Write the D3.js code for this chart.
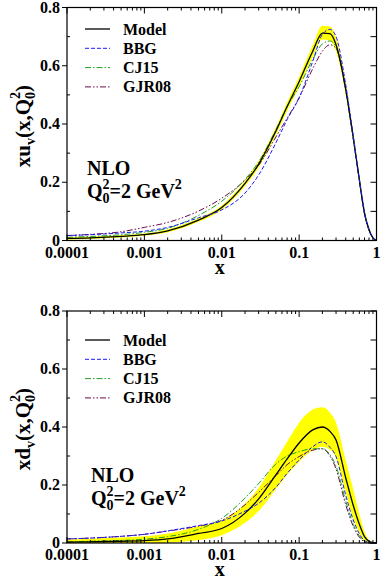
<!DOCTYPE html>
<html>
<head>
    <script src="https://cdn.jsdelivr.net/npm/d3@7"></script>
    <style>
        body { margin: 0; background: #fff; }
        svg { display: block; }
        text { font-family: "Liberation Serif", "DejaVu Serif", serif; font-weight: bold; fill: #000; }
    </style>
</head>
<body>
<svg width="382" height="581"></svg>
<script>
    // x grid shared by every curve
    var xs = [1e-4, 2e-4, 5e-4, 1e-3, 2e-3, 5e-3, 0.01, 0.02, 0.03, 0.05, 0.07, 0.1, 0.15, 0.2, 0.25, 0.3, 0.4, 0.5, 0.6, 0.7, 0.8, 0.9, 1];

    // upper panel: x u_v
    var uModel = [.007, .009, .014, .02, .033, .07, .113, .196, .262, .375, .46, .545, .65, .712, .71, .672, .52, .355, .21, .095, .038, .009, 0];
    var uUpper = [.011, .013, .018, .024, .038, .076, .12, .205, .273, .388, .475, .562, .67, .737, .735, .695, .54, .37, .222, .102, .042, .011, 0];
    var uLower = [.003, .005, .01, .016, .028, .064, .106, .187, .251, .362, .445, .528, .63, .69, .687, .65, .5, .34, .198, .088, .034, .007, 0];
    var uBBG   = [.017, .02, .026, .032, .045, .078, .105, .163, .225, .335, .415, .49, .615, .708, .725, .70, .535, .36, .21, .095, .036, .008, 0];
    var uCJ15  = [.011, .014, .02, .028, .042, .086, .135, .21, .27, .38, .46, .528, .622, .675, .685, .665, .52, .35, .205, .09, .035, .008, 0];
    var uGJR08 = [.017, .021, .03, .045, .062, .101, .145, .207, .258, .355, .42, .49, .59, .65, .672, .66, .515, .35, .205, .09, .035, .008, 0];

    // lower panel: x d_v
    var dModel = [.003, .004, .006, .008, .014, .033, .05, .103, .152, .235, .29, .345, .39, .40, .385, .355, .225, .13, .065, .022, .006, .001, 0];
    var dUpper = [.012, .015, .019, .023, .033, .058, .078, .135, .19, .285, .35, .415, .46, .468, .45, .415, .285, .185, .1, .04, .01, .002, 0];
    var dLower = [0, 0, 0, 0, .001, .01, .027, .07, .11, .185, .235, .28, .32, .332, .322, .295, .175, .085, .035, .006, .001, 0, 0];
    var dBBG   = [.014, .017, .023, .03, .042, .06, .076, .11, .137, .192, .24, .286, .332, .349, .33, .298, .165, .08, .032, .008, .002, 0, 0];
    var dCJ15  = [.004, .006, .009, .013, .022, .047, .085, .155, .205, .272, .30, .315, .325, .325, .305, .265, .145, .065, .025, .006, .001, 0, 0];
    var dGJR08 = [.014, .017, .023, .03, .041, .058, .078, .132, .175, .232, .27, .298, .32, .325, .30, .255, .132, .058, .02, .004, 0, 0, 0];

    var xTickVals = [1e-4, 1e-3, 1e-2, 0.1, 1];
    var xTickLabels = ["0.0001", "0.001", "0.01", "0.1", "1"];
    var yTickVals = [0, 0.2, 0.4, 0.6, 0.8];
    var yTickLabels = ["0", "0.2", "0.4", "0.6", "0.8"];
    var legendNames = ["Model", "BBG", "CJ15", "GJR08"];

    var styles = {
        Model: { color: "#000000", dash: null, width: 1.3 },
        BBG:   { color: "#1a1aff", dash: "4,2", width: 1 },
        CJ15:  { color: "#1f9f1f", dash: "6,2,1.5,2", width: 1 },
        GJR08: { color: "#6a0a4a", dash: "6,2,1.5,2,1.5,2", width: 1 }
    };

    const svg = d3.select("svg");

    const x = d3.scaleLog().domain([1e-4, 1]).range([67, 376.5]);

    var panels = [
        { top: 7.5, bottom: 240.5, letter: "u", model: uModel, upper: uUpper, lower: uLower,
          series: { BBG: uBBG, CJ15: uCJ15, GJR08: uGJR08 }, legendY: 29, textX: 87, textY: 175 },
        { top: 311, bottom: 543, letter: "d", model: dModel, upper: dUpper, lower: dLower,
          series: { BBG: dBBG, CJ15: dCJ15, GJR08: dGJR08 }, legendY: 340, textX: 91, textY: 482 }
    ];

    var minorX = [];
    for (var e = -4; e < 0; e++) {
        for (var m = 2; m <= 9; m++) minorX.push(m * Math.pow(10, e));
    }

    panels.forEach(function(p) {
        const y = d3.scaleLinear().domain([0, 0.8]).range([p.bottom, p.top]);
        const g = svg.append("g");

        // error band
        var area = d3.area()
            .x(function(d, i) { return x(xs[i]); })
            .y0(function(d, i) { return y(p.lower[i]); })
            .y1(function(d, i) { return y(p.upper[i]); })
            .curve(d3.curveMonotoneX);
        g.append("path")
            .attr("d", area(xs))
            .attr("fill", "#ffff00");

        var line = d3.line()
            .x(function(d, i) { return x(xs[i]); })
            .y(function(d) { return y(d); })
            .curve(d3.curveMonotoneX);

        var order = [["GJR08", p.series.GJR08], ["CJ15", p.series.CJ15], ["Model", p.model], ["BBG", p.series.BBG]];
        order.forEach(function(o) {
            var s = styles[o[0]];
            g.append("path")
                .attr("d", line(o[1]))
                .attr("fill", "none")
                .attr("stroke", s.color)
                .attr("stroke-width", s.width)
                .attr("stroke-dasharray", s.dash);
        });

        // frame
        g.append("rect")
            .attr("x", x(1e-4)).attr("y", p.top)
            .attr("width", x(1) - x(1e-4)).attr("height", p.bottom - p.top)
            .attr("fill", "none").attr("stroke", "#000").attr("stroke-width", 1.2);

        // x ticks, bottom and top, pointing inward
        var xt = g.append("g").attr("stroke", "#000").attr("stroke-width", 1);
        xTickVals.forEach(function(v) {
            xt.append("line").attr("x1", x(v)).attr("x2", x(v)).attr("y1", p.bottom).attr("y2", p.bottom - 6);
            xt.append("line").attr("x1", x(v)).attr("x2", x(v)).attr("y1", p.top).attr("y2", p.top + 6);
        });
        minorX.forEach(function(v) {
            xt.append("line").attr("x1", x(v)).attr("x2", x(v)).attr("y1", p.bottom).attr("y2", p.bottom - 3);
            xt.append("line").attr("x1", x(v)).attr("x2", x(v)).attr("y1", p.top).attr("y2", p.top + 3);
        });

        // y ticks
        var yMinor = [0.1, 0.3, 0.5, 0.7];
        yTickVals.forEach(function(v) {
            xt.append("line").attr("x1", x(1e-4) - 5).attr("x2", x(1e-4)).attr("y1", y(v)).attr("y2", y(v));
            xt.append("line").attr("x1", x(1)).attr("x2", x(1) - 6).attr("y1", y(v)).attr("y2", y(v));
        });
        yMinor.forEach(function(v) {
            xt.append("line").attr("x1", x(1e-4)).attr("x2", x(1e-4) + 3).attr("y1", y(v)).attr("y2", y(v));
            xt.append("line").attr("x1", x(1)).attr("x2", x(1) - 6).attr("y1", y(v)).attr("y2", y(v));
        });

        // tick labels
        g.selectAll(".xl").data(xTickVals).enter().append("text")
            .attr("x", function(d) { return x(d); })
            .attr("y", p.bottom + 17)
            .attr("text-anchor", "middle")
            .attr("font-size", 16)
            .text(function(d, i) { return xTickLabels[i]; });
        g.selectAll(".yl").data(yTickVals).enter().append("text")
            .attr("x", 60)
            .attr("y", function(d) { return y(d) + 5; })
            .attr("text-anchor", "end")
            .attr("font-size", 16)
            .text(function(d, i) { return yTickLabels[i]; });

        // axis titles
        g.append("text")
            .attr("x", (x(1e-4) + x(1)) / 2 - 2)
            .attr("y", p.bottom + 33)
            .attr("text-anchor", "middle")
            .attr("font-size", 20)
            .text("x");

        var yl = g.append("text")
            .attr("transform", "translate(30," + ((p.top + p.bottom) / 2 + 2) + ") rotate(-90)")
            .attr("text-anchor", "middle")
            .attr("font-size", 21);
        yl.append("tspan").text("x" + p.letter);
        yl.append("tspan").attr("font-size", 14).attr("dy", 5).text("v");
        yl.append("tspan").attr("dy", -5).text("(x,Q");
        yl.append("tspan").attr("font-size", 14).attr("dy", 5).text("0");
        yl.append("tspan").attr("font-size", 14).attr("dx", -7).attr("dy", -15).text("2");
        yl.append("tspan").attr("dy", 10).text(")");

        // NLO note
        g.append("text").attr("x", p.textX).attr("y", p.textY).attr("font-size", 20).text("NLO");
        var q = g.append("text").attr("x", p.textX).attr("y", p.textY + 23).attr("font-size", 20);
        q.append("tspan").text("Q");
        q.append("tspan").attr("font-size", 14).attr("dy", 5).text("0");
        q.append("tspan").attr("font-size", 14).attr("dx", -7).attr("dy", -14).text("2");
        q.append("tspan").attr("dy", 9).text("=2 GeV");
        q.append("tspan").attr("font-size", 14).attr("dy", -9).text("2");

        // legend
        legendNames.forEach(function(name, i) {
            var s = styles[name];
            var ly = p.legendY + i * 19.3;
            g.append("line")
                .attr("x1", 85).attr("x2", 110).attr("y1", ly).attr("y2", ly)
                .attr("stroke", s.color).attr("stroke-width", s.width)
                .attr("stroke-dasharray", s.dash);
            g.append("text").attr("x", 123).attr("y", ly + 5.5).attr("font-size", 16).text(name);
        });
    });
</script>
</body>
</html>
